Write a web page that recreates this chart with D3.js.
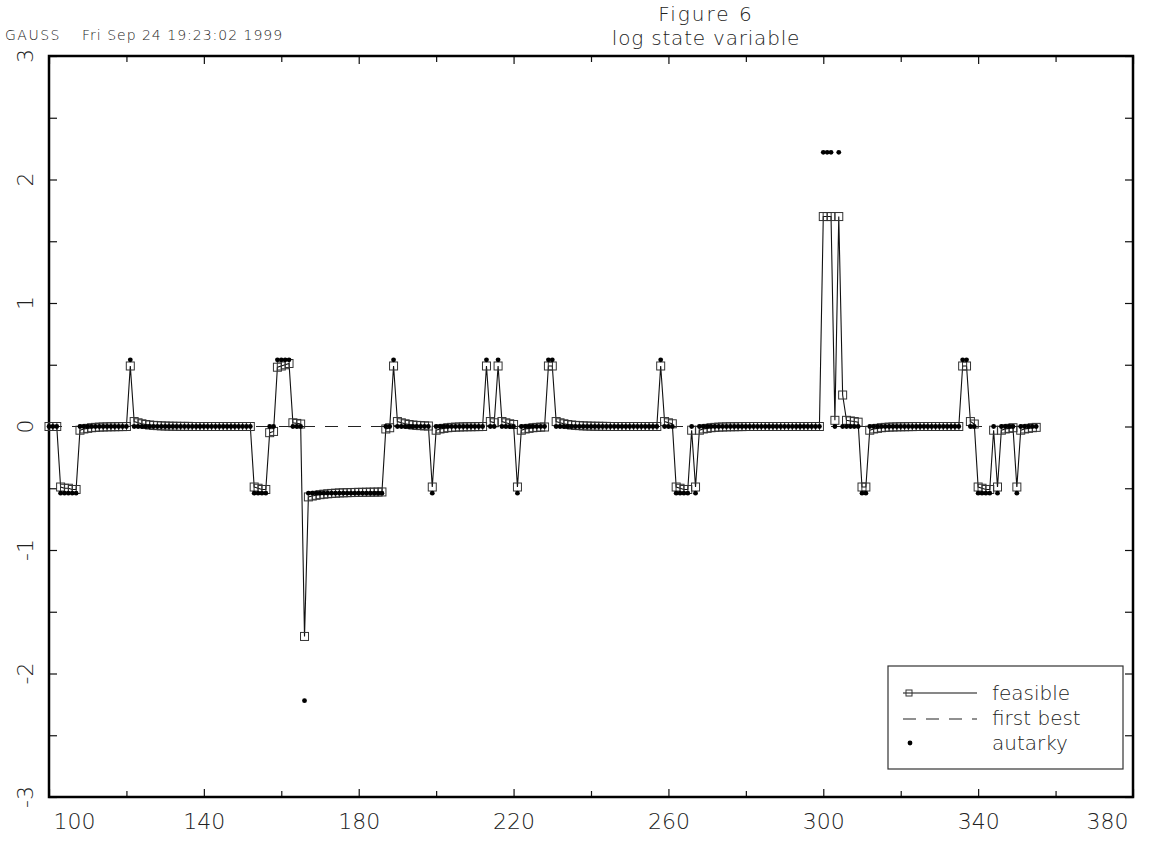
<!DOCTYPE html>
<html>
<head>
<meta charset="utf-8">
<script src="https://cdn.jsdelivr.net/npm/d3@7"></script>
<style>
  body { margin: 0; background: #fff; }
  svg text { font-family: "DejaVu Sans", sans-serif; font-weight: 200; fill: #222; }
</style>
</head>
<body>
<div id="chart"></div>
<script>
// periods 100..355, one value each
var firstPeriod = 100;

var feasible = [
  0, 0, 0, -0.49, -0.50, -0.50, -0.51, -0.51, -0.03, -0.02,
  -0.015, -0.01, -0.007, -0.005, -0.004, -0.003, -0.002, -0.002, -0.001, -0.001,
  0, 0.49, 0.04, 0.03, 0.022, 0.016, 0.012, 0.009, 0.007, 0.005,
  0.004, 0.003, 0.002, 0.002, 0.001, 0.001, 0.001, 0, 0, 0,
  0, 0, 0, 0, 0, 0, 0, 0, 0, 0,
  0, 0, 0, -0.49, -0.50, -0.51, -0.51, -0.05, -0.04, 0.48,
  0.49, 0.50, 0.51, 0.03, 0.025, 0.02, -1.70, -0.57, -0.563, -0.557,
  -0.552, -0.548, -0.545, -0.542, -0.54, -0.538, -0.537, -0.536, -0.535, -0.534,
  -0.533, -0.533, -0.532, -0.532, -0.531, -0.531, -0.53, -0.02, -0.01, 0.49,
  0.04, 0.03, 0.022, 0.016, 0.012, 0.009, 0.007, 0.005, 0.004, -0.49,
  -0.03, -0.02, -0.015, -0.01, -0.007, -0.005, -0.004, -0.003, -0.002, -0.002,
  -0.001, -0.001, 0, 0.49, 0.04, 0.03, 0.49, 0.04, 0.03, 0.022,
  0.016, -0.49, -0.03, -0.02, -0.015, -0.01, -0.007, -0.005, -0.004, 0.49,
  0.49, 0.04, 0.03, 0.022, 0.016, 0.012, 0.009, 0.007, 0.005, 0.004,
  0.003, 0.002, 0.002, 0.001, 0.001, 0, 0, 0, 0, 0,
  0, 0, 0, 0, 0, 0, 0, 0, 0.49, 0.04,
  0.03, 0.022, -0.49, -0.50, -0.51, -0.51, -0.03, -0.49, -0.03, -0.02,
  -0.015, -0.01, -0.007, -0.005, -0.004, -0.003, -0.002, -0.002, -0.001, -0.001,
  0, 0, 0, 0, 0, 0, 0, 0, 0, 0,
  0, 0, 0, 0, 0, 0, 0, 0, 0, 0,
  1.70, 1.70, 1.70, 0.05, 1.70, 0.255, 0.05, 0.045, 0.04, 0.035,
  -0.49, -0.49, -0.03, -0.02, -0.015, -0.01, -0.007, -0.005, -0.004, -0.003,
  -0.002, -0.002, -0.001, -0.001, 0, 0, 0, 0, 0, 0,
  0, 0, 0, 0, 0, 0, 0.49, 0.49, 0.04, 0.02,
  -0.49, -0.50, -0.51, -0.51, -0.03, -0.49, -0.03, -0.02, -0.015, -0.01,
  -0.49, -0.03, -0.02, -0.015, -0.01, -0.007
];

var autarky = [
  0, 0, 0, -0.54, -0.54, -0.54, -0.54, -0.54, 0, 0,
  0, 0, 0, 0, 0, 0, 0, 0, 0, 0,
  0, 0.54, 0, 0, 0, 0, 0, 0, 0, 0,
  0, 0, 0, 0, 0, 0, 0, 0, 0, 0,
  0, 0, 0, 0, 0, 0, 0, 0, 0, 0,
  0, 0, 0, -0.54, -0.54, -0.54, -0.54, 0, 0, 0.54,
  0.54, 0.54, 0.54, 0, 0, 0, -2.22, -0.54, -0.54, -0.54,
  -0.54, -0.54, -0.54, -0.54, -0.54, -0.54, -0.54, -0.54, -0.54, -0.54,
  -0.54, -0.54, -0.54, -0.54, -0.54, -0.54, -0.54, 0, 0, 0.54,
  0, 0, 0, 0, 0, 0, 0, 0, 0, -0.54,
  0, 0, 0, 0, 0, 0, 0, 0, 0, 0,
  0, 0, 0, 0.54, 0, 0, 0.54, 0, 0, 0,
  0, -0.54, 0, 0, 0, 0, 0, 0, 0, 0.54,
  0.54, 0, 0, 0, 0, 0, 0, 0, 0, 0,
  0, 0, 0, 0, 0, 0, 0, 0, 0, 0,
  0, 0, 0, 0, 0, 0, 0, 0, 0.54, 0,
  0, 0, -0.54, -0.54, -0.54, -0.54, 0, -0.54, 0, 0,
  0, 0, 0, 0, 0, 0, 0, 0, 0, 0,
  0, 0, 0, 0, 0, 0, 0, 0, 0, 0,
  0, 0, 0, 0, 0, 0, 0, 0, 0, 0,
  2.22, 2.22, 2.22, 0, 2.22, 0, 0, 0, 0, 0,
  -0.54, -0.54, 0, 0, 0, 0, 0, 0, 0, 0,
  0, 0, 0, 0, 0, 0, 0, 0, 0, 0,
  0, 0, 0, 0, 0, 0, 0.54, 0.54, 0, 0,
  -0.54, -0.54, -0.54, -0.54, 0, -0.54, 0, 0, 0, 0,
  -0.54, 0, 0, 0, 0, 0
];

// first best stays at zero over the whole sample
var firstBestPeriods = [100, 355];
var firstBest = [0, 0];

var xTicks = [100, 140, 180, 220, 260, 300, 340, 380];
var xMinorTicks = [120, 160, 200, 240, 280, 320, 360];
var yTicks = [-3, -2, -1, 0, 1, 2, 3];
var yMinorTicks = [-2.5, -1.5, -0.5, 0.5, 1.5, 2.5];

var legendItems = ["feasible", "first best", "autarky"];

var width = 1163, height = 841;
var margin = { top: 56, right: 30, bottom: 44, left: 49 };

var svg = d3.select("#chart").append("svg")
    .attr("width", width)
    .attr("height", height);

var x = d3.scaleLinear().domain([100, 380]).range([margin.left, width - margin.right]);
var y = d3.scaleLinear().domain([-3, 3]).range([height - margin.bottom, margin.top]);

var points = feasible.map(function (v, i) {
    return { t: firstPeriod + i, f: v, a: autarky[i] };
});

// header texts
svg.append("text").attr("x", 5).attr("y", 40).style("font-size", "14px")
    .style("letter-spacing", "1.5px").text("GAUSS");
svg.append("text").attr("x", 82).attr("y", 40).style("font-size", "14px")
    .style("letter-spacing", "1px").text("Fri Sep 24 19:23:02 1999");
svg.append("text").attr("x", 706).attr("y", 21).attr("text-anchor", "middle")
    .style("font-size", "20px").style("letter-spacing", "2px").text("Figure 6");
svg.append("text").attr("x", 706).attr("y", 45).attr("text-anchor", "middle")
    .style("font-size", "20px").style("letter-spacing", "0.8px").text("log state variable");

// axes, ticks pointing inwards
function styleAxis(g) {
    g.select(".domain").remove();
    g.selectAll("line").attr("stroke", "#111").attr("stroke-width", 1.2);
}

var xb = svg.append("g")
    .attr("transform", "translate(0," + y(-3) + ")")
    .call(d3.axisBottom(x).tickValues(xTicks).tickSize(-8).tickPadding(16));
styleAxis(xb);
xb.selectAll("text").style("font-size", "22px").style("font-family", null);
xb.selectAll("text").filter(function (d) { return d === 100; })
    .attr("text-anchor", "start").attr("x", 4);
xb.selectAll("text").filter(function (d) { return d === 380; })
    .attr("text-anchor", "end").attr("x", -5);

svg.append("g")
    .attr("transform", "translate(0," + y(-3) + ")")
    .call(d3.axisBottom(x).tickValues(xMinorTicks).tickSize(-6).tickFormat(""))
    .call(styleAxis);

svg.append("g")
    .attr("transform", "translate(0," + y(3) + ")")
    .call(d3.axisTop(x).tickValues(xTicks).tickSize(-8).tickFormat(""))
    .call(styleAxis);
svg.append("g")
    .attr("transform", "translate(0," + y(3) + ")")
    .call(d3.axisTop(x).tickValues(xMinorTicks).tickSize(-6).tickFormat(""))
    .call(styleAxis);

svg.append("g")
    .attr("transform", "translate(" + x(100) + ",0)")
    .call(d3.axisLeft(y).tickValues(yTicks.concat(yMinorTicks)).tickSize(-8).tickFormat(""))
    .call(styleAxis);
svg.append("g")
    .attr("transform", "translate(" + x(380) + ",0)")
    .call(d3.axisRight(y).tickValues(yTicks.concat(yMinorTicks)).tickSize(-8).tickFormat(""))
    .call(styleAxis);

// rotated y labels
svg.append("g").selectAll("text")
    .data(yTicks)
    .enter().append("text")
    .attr("transform", function (d) { return "translate(33," + y(d) + ") rotate(-90)"; })
    .attr("text-anchor", "middle")
    .style("font-size", "22px")
    .text(function (d) { return d; });

// frame
svg.append("rect")
    .attr("x", x(100)).attr("y", y(3))
    .attr("width", x(380) - x(100)).attr("height", y(-3) - y(3))
    .attr("fill", "none").attr("stroke", "#000").attr("stroke-width", 2.5);

// first best
var fb = firstBestPeriods.map(function (t, i) { return [t, firstBest[i]]; });
svg.append("path")
    .datum(fb)
    .attr("d", d3.line().x(function (d) { return x(d[0]); }).y(function (d) { return y(d[1]); }))
    .attr("fill", "none").attr("stroke", "#222").attr("stroke-width", 1.2)
    .attr("stroke-dasharray", "13,10");

// feasible
svg.append("path")
    .datum(points)
    .attr("d", d3.line().x(function (d) { return x(d.t); }).y(function (d) { return y(d.f); }))
    .attr("fill", "none").attr("stroke", "#111").attr("stroke-width", 1.1);

var sq = 8;
svg.append("g").selectAll("rect")
    .data(points)
    .enter().append("rect")
    .attr("x", function (d) { return x(d.t) - sq / 2; })
    .attr("y", function (d) { return y(d.f) - sq / 2; })
    .attr("width", sq).attr("height", sq)
    .attr("fill", "none").attr("stroke", "#333").attr("stroke-width", 1);

// autarky
svg.append("g").selectAll("circle")
    .data(points)
    .enter().append("circle")
    .attr("cx", function (d) { return x(d.t); })
    .attr("cy", function (d) { return y(d.a); })
    .attr("r", 2.4)
    .attr("fill", "#000");

// legend
var lg = svg.append("g");
lg.append("rect")
    .attr("x", 888).attr("y", 666).attr("width", 235).attr("height", 103)
    .attr("fill", "#fff").attr("stroke", "#333").attr("stroke-width", 1.2);

lg.append("line").attr("x1", 903).attr("x2", 977).attr("y1", 693).attr("y2", 693)
    .attr("stroke", "#111").attr("stroke-width", 1.1);
lg.append("rect").attr("x", 906).attr("y", 690).attr("width", 6).attr("height", 6)
    .attr("fill", "none").attr("stroke", "#333");
lg.append("line").attr("x1", 903).attr("x2", 977).attr("y1", 719).attr("y2", 719)
    .attr("stroke", "#222").attr("stroke-width", 1.2).attr("stroke-dasharray", "13,10");
lg.append("circle").attr("cx", 910).attr("cy", 743).attr("r", 2.4).attr("fill", "#000");

lg.selectAll("text.lab")
    .data(legendItems)
    .enter().append("text")
    .attr("class", "lab")
    .attr("x", 992)
    .attr("y", function (d, i) { return 700 + i * 25; })
    .style("font-size", "20px")
    .text(function (d) { return d; });
</script>
</body>
</html>
